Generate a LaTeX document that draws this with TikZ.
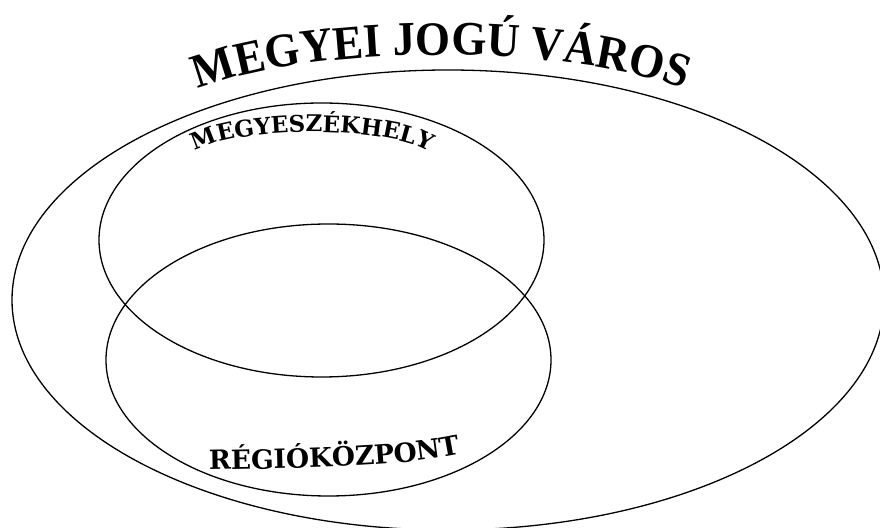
\documentclass[tikz,border=0pt]{standalone}
\usepackage{fontspec}
\newfontfamily\titlefont[FakeStretch=0.94]{Liberation Serif}
\newfontfamily\labelfont{DejaVu Serif}
\usetikzlibrary{decorations.text}
\begin{document}
\begin{tikzpicture}[x=1pt,y=1pt,
  venn/.style={draw=black, line width=1.3pt},
  curvetext/.style={decorate, decoration={text along path, text align=center, text={#1}}}]
\useasboundingbox (0,0) rectangle (880,527);
\fill[white] (0,0) rectangle (880,527);
\coordinate (bigc) at (448,227);
\coordinate (upc) at (321.5,287);
\coordinate (loc) at (328.5,167);
\draw[venn] (bigc) ellipse [x radius=436, y radius=230];
\draw[venn] (upc) ellipse [x radius=222.5, y radius=137];
\draw[venn] (loc) ellipse [x radius=222.5, y radius=136];
% title
\coordinate (tstart) at ({441+285*cos(155)},{400+72*sin(155)});
\path[curvetext={|\titlefont\bfseries\fontsize{48}{48}\selectfont|MEGYEI JOGÚ VÁROS}]
  (tstart) arc[start angle=155, end angle=25, x radius=285, y radius=72];
% upper label
\coordinate (ustart) at ({312+123*cos(172)},{366+29*sin(172)});
\path[curvetext={|\labelfont\bfseries\fontsize{23}{23}\selectfont|MEGYESZÉKHELY}]
  (ustart) arc[start angle=172, end angle=8, x radius=123, y radius=29];
% lower label
\coordinate (lstart) at (205,57);
\coordinate (lend) at (465,74);
\path[curvetext={|\labelfont\bfseries\fontsize{26.5}{26.5}\selectfont|RÉGIÓKÖZPONT}]
  (lstart) .. controls (300,59) and (405,60) .. (lend);
\end{tikzpicture}
\end{document}
